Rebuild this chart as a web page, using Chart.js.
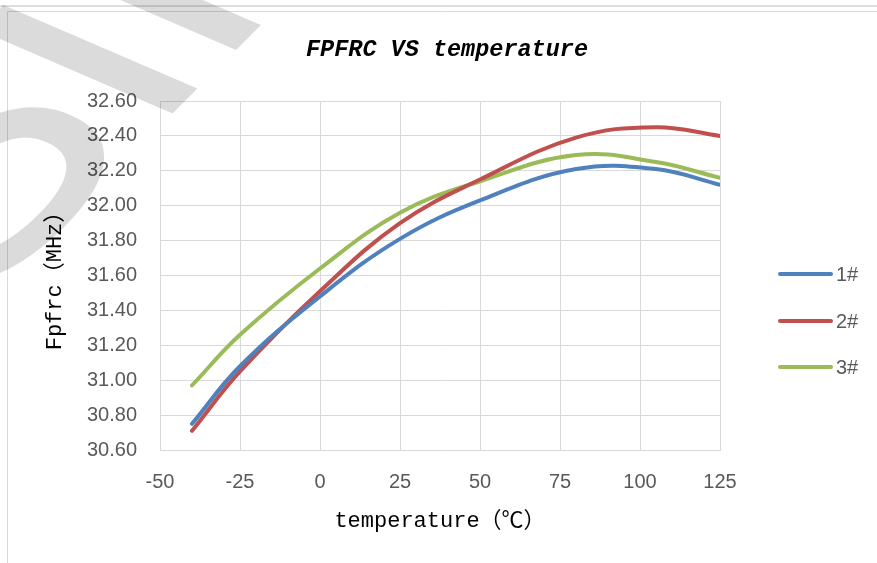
<!DOCTYPE html>
<html>
<head>
<meta charset="utf-8">
<script src="https://cdn.jsdelivr.net/npm/chart.js@4.4.1/dist/chart.umd.min.js"></script>
<style>
  html, body { margin: 0; padding: 0; background: #fff; }
  #wrap { position: relative; width: 877px; height: 563px; }
</style>
</head>
<body>
<div id="wrap"><canvas id="myChart"></canvas></div>
<script>
var chartTitle = "FPFRC VS temperature";
var temps = [-40, -25, 0, 25, 50, 80, 105, 125];
var seriesNames = ["1#", "2#", "3#"];
var fpfrc1 = [30.75, 31.08, 31.48, 31.81, 32.03, 32.21, 32.21, 32.12];
var fpfrc2 = [30.71, 31.05, 31.51, 31.90, 32.15, 32.39, 32.45, 32.40];
var fpfrc3 = [30.97, 31.26, 31.64, 31.96, 32.14, 32.29, 32.25, 32.16];
var colors = ["#4f81bd", "#c0504d", "#9bbb59"];

function pts(vals){
  return temps.map(function(t, i){ return {x: t, y: vals[i]}; });
}

// faint frame, watermark and title (title is off-centre like the original)
var frameAndMark = {
  id: "frameAndMark",
  beforeDraw: function(chart){
    var c = chart.ctx;
    c.save();
    c.fillStyle = "#fff";
    c.fillRect(0, 0, chart.width, chart.height);
    c.strokeStyle = "#dedede";
    c.lineWidth = 2;
    c.beginPath(); c.moveTo(0, 6); c.lineTo(877, 6); c.stroke();
    c.lineWidth = 1;
    c.strokeStyle = "#d9d9d9";
    c.beginPath(); c.moveTo(7.5, 563); c.lineTo(7.5, 11.5); c.lineTo(877, 11.5); c.stroke();
    c.font = "italic bold 23.5px 'Liberation Mono'";
    c.fillStyle = "#000";
    c.textAlign = "center";
    c.textBaseline = "middle";
    c.fillText(chartTitle, 447, 50);
    c.restore();
  },
  afterDraw: function(chart){
    var c = chart.ctx;
    c.save();
    // skewed, rotated watermark
    c.transform(0.707, -0.707, 0.918, 0.396, -35, 321);
    c.font = "400px 'Liberation Sans'";
    c.fillStyle = "rgba(0,0,0,0.14)";
    c.fillText("Sino", 0, 0);
    c.restore();
  }
};

// legend drawn at the right like Excel
var sideLegend = {
  id: "sideLegend",
  afterDraw: function(chart){
    var c = chart.ctx;
    var ys = [274, 321, 367];
    c.save();
    chart.data.datasets.forEach(function(ds, i){
      c.strokeStyle = ds.borderColor;
      c.lineWidth = 4;
      c.lineCap = "round";
      c.beginPath(); c.moveTo(780, ys[i]); c.lineTo(831, ys[i]); c.stroke();
      c.fillStyle = "#595959";
      c.font = "20px 'Liberation Sans'";
      c.textBaseline = "middle";
      c.fillText(ds.label, 836, ys[i] + 1);
    });
    c.restore();
  }
};

new Chart("myChart", {
  type: "line",
  data: {
    datasets: [
      {label: seriesNames[0], data: pts(fpfrc1), borderColor: colors[0]},
      {label: seriesNames[1], data: pts(fpfrc2), borderColor: colors[1]},
      {label: seriesNames[2], data: pts(fpfrc3), borderColor: colors[2]}
    ]
  },
  plugins: [frameAndMark, sideLegend],
  options: {
    responsive: true,
    maintainAspectRatio: false,
    animation: false,
    layout: { padding: { left: 0, right: 157, top: 101, bottom: 29 } },
    elements: {
      line: { borderWidth: 4, tension: 0.4, borderCapStyle: "round" },
      point: { radius: 0 }
    },
    plugins: {
      legend: { display: false },
      tooltip: { enabled: false },
      title: { display: false }
    },
    scales: {
      x: {
        type: "linear",
        min: -50, max: 125,
        ticks: { stepSize: 25, color: "#595959", padding: 20,
                 font: { family: "'Liberation Sans'", size: 20 } },
        grid: { color: "#d9d9d9", drawTicks: false },
        border: { color: "#d9d9d9" },
        title: { display: true, text: "temperature（℃）", color: "#000",
                 font: { family: "'Liberation Mono', 'Noto Sans CJK SC'", size: 22, lineHeight: 1.2 },
                 padding: { top: 0, bottom: 0 } },
        afterFit: function(s){ s.height = 84; }
      },
      y: {
        min: 30.6, max: 32.6,
        ticks: { stepSize: 0.2, color: "#595959", padding: 23,
                 font: { family: "'Liberation Sans'", size: 20 },
                 callback: function(v){ return v.toFixed(2); } },
        grid: { color: "#d9d9d9", drawTicks: false },
        border: { color: "#d9d9d9" },
        title: { display: true, text: "Fpfrc（MHz）", color: "#000",
                 font: { family: "'Liberation Mono', 'Noto Sans CJK SC'", size: 22, lineHeight: 1.2 },
                 padding: { top: 42, bottom: 0 } },
        afterFit: function(s){ s.width = 160; }
      }
    }
  }
});
</script>
</body>
</html>
